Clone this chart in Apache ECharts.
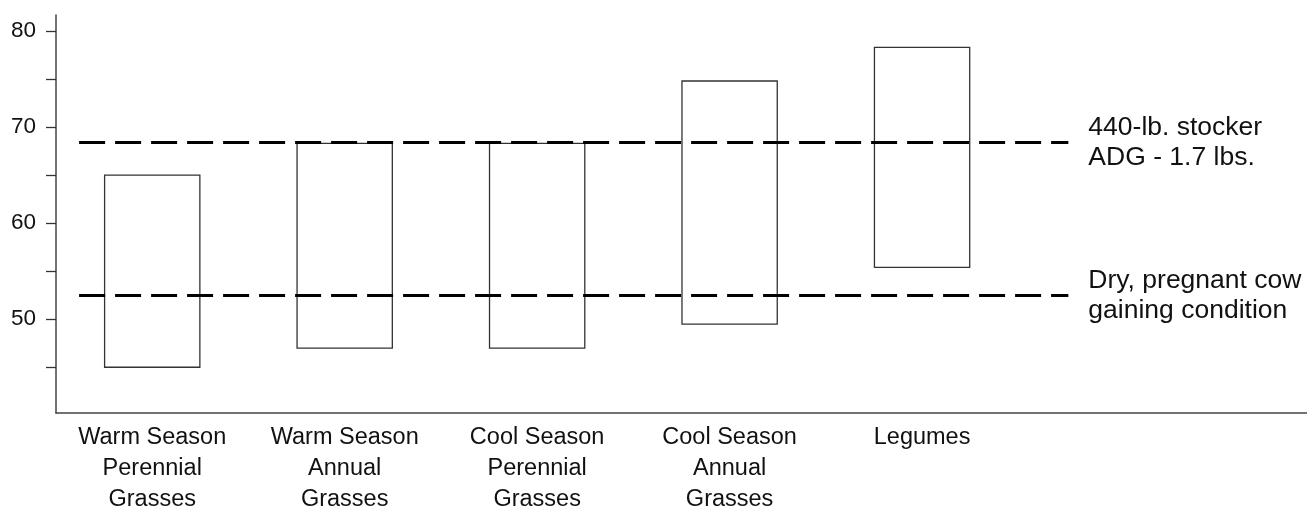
<!DOCTYPE html>
<html>
<head>
<meta charset="utf-8">
<script src="https://cdn.jsdelivr.net/npm/echarts@6/dist/echarts.min.js"></script>
<style>
  html, body { margin: 0; padding: 0; background: #fff; }
  #main { width: 1307px; height: 506px; }
</style>
</head>
<body>
<div id="main"></div>
<script>
// forage categories and their range of values
const categories = [
  'Warm Season\nPerennial\nGrasses',
  'Warm Season\nAnnual\nGrasses',
  'Cool Season\nPerennial\nGrasses',
  'Cool Season\nAnnual\nGrasses',
  'Legumes'
];
const lowValues = [45.0, 47.0, 47.0, 49.5, 55.4];
const highValues = [65.0, 68.3, 68.3, 74.8, 78.3];

// reference levels (dashed lines)
const refValues = [68.4, 52.5];
const refLabels = ['440-lb. stocker\nADG - 1.7 lbs.', 'Dry, pregnant cow\ngaining condition'];
const refStart = -0.38;
const refEnd = 4.76;

// y axis ticks
const yTicks = [45, 50, 55, 60, 65, 70, 75, 80];
const yTickLabels = [50, 60, 70, 80];
const xLabelValues = [0, 1, 2, 3, 4];

const chart = echarts.init(document.getElementById('main'));

const boxData = categories.map((c, i) => [i, lowValues[i], highValues[i]]);

const markData = refValues.map((v, i) => [
  { coord: [refStart, v], label: { formatter: refLabels[i] } },
  { coord: [refEnd, v] }
]);

const option = {
  animation: false,
  backgroundColor: '#fff',
  textStyle: { fontFamily: '"Liberation Sans", Arial, sans-serif' },
  grid: { left: 56, right: 0, top: 15, bottom: 93, outerBoundsMode: 'none', containLabel: false },
  xAxis: {
    type: 'value',
    min: -0.5,
    max: 6,
    splitLine: { show: false },
    axisTick: { show: false },
    axisLine: { show: true, onZero: false, lineStyle: { color: '#444', width: 1.5 } },
    axisLabel: {
      customValues: xLabelValues,
      formatter: (v) => categories[Math.round(v)] || '',
      fontSize: 23.5,
      lineHeight: 31,
      color: '#111',
      margin: 9
    }
  },
  yAxis: {
    type: 'value',
    min: 40.24,
    max: 81.67,
    splitLine: { show: false },
    axisLine: { show: true, onZero: false, lineStyle: { color: '#444', width: 1.5 } },
    axisTick: {
      customValues: yTicks,
      length: 10,
      lineStyle: { color: '#333', width: 1.3 }
    },
    axisLabel: {
      customValues: yTickLabels,
      fontSize: 22.5,
      color: '#111',
      margin: 20
    }
  },
  series: [
    {
      type: 'custom',
      data: boxData,
      encode: { x: 0, y: [1, 2] },
      renderItem: function (params, api) {
        const x = api.value(0);
        const top = api.coord([x, api.value(2)]);
        const bottom = api.coord([x, api.value(1)]);
        const w = api.size([0.495, 0])[0];
        return {
          type: 'rect',
          shape: { x: top[0] - w / 2, y: top[1], width: w, height: bottom[1] - top[1] },
          style: { fill: 'none', stroke: '#333', lineWidth: 1.3 }
        };
      },
      z: 2
    },
    {
      type: 'line',
      data: [],
      z: 3,
      markLine: {
        silent: true,
        symbol: ['none', 'none'],
        lineStyle: { color: '#000', width: 3, type: [26, 10] },
        label: {
          show: true,
          position: 'end',
          distance: 20,
          fontSize: 26.5,
          lineHeight: 30,
          padding: [6, 0, 0, 0],
          color: '#111'
        },
        data: markData
      }
    }
  ]
};

chart.setOption(option);
</script>
</body>
</html>
